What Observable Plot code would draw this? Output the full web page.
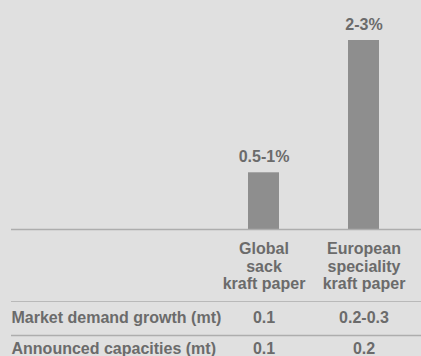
<!DOCTYPE html>
<html>
<head>
<meta charset="utf-8">
<script src="https://cdn.jsdelivr.net/npm/d3@7"></script>
<script src="https://cdn.jsdelivr.net/npm/@observablehq/plot@0.6"></script>
<style>
  html, body { margin: 0; padding: 0; background: #e0e0e0; overflow: hidden; }
  #chart svg { display: block; background: #e0e0e0; }
</style>
</head>
<body>
<div id="chart"></div>
<script>
const categories = ["Global\nsack\nkraft paper", "European\nspeciality\nkraft paper"];
const growth = [0.75, 2.5];
const growthLabels = ["0.5-1%", "2-3%"];
const rowLabels = ["Market demand growth (mt)", "Announced capacities (mt)"];
const demand = ["0.1", "0.2-0.3"];
const capacities = ["0.1", "0.2"];

const font = "'Liberation Sans', Arial, Helvetica, sans-serif";
const textColor = "#6b6b6b";
const barColor = "#8e8e8e";
const ruleColor = "#adadad";

const bars = categories.map((c, i) => ({cat: c, value: growth[i], label: growthLabels[i]}));
const xOpts = {type: "band", domain: categories, range: [213, 414], paddingInner: 0.693, paddingOuter: 0.342};

const chart = Plot.plot({
  width: 421,
  height: 302,
  marginTop: 40,
  marginBottom: 73,
  marginLeft: 11,
  marginRight: 0,
  style: {fontFamily: font, fontSize: "16px", fontWeight: "bold", color: textColor, background: "#e0e0e0"},
  x: {...xOpts, axis: null},
  y: {domain: [0, 2.5], axis: null},
  marks: [
    Plot.barY(bars, {x: "cat", y: "value", fill: barColor}),
    Plot.text(bars, {x: "cat", y: "value", text: "label", dy: -16, fill: textColor, fontSize: 16, fontWeight: "bold"}),
    Plot.ruleY([0], {stroke: ruleColor, strokeWidth: 1.5}),
    Plot.axisX({tickSize: 0, tickPadding: 12, fill: textColor, fontSize: 16, fontWeight: "bold", lineHeight: 1.1, label: null}),
    Plot.ruleY([0], {stroke: ruleColor, strokeWidth: 1.5, dy: 72.5, clip: false})
  ]
});

const rows = [];
rowLabels.forEach((r, j) => {
  const vals = j === 0 ? demand : capacities;
  categories.forEach((c, i) => rows.push({row: r, cat: c, text: vals[i]}));
});

const table = Plot.plot({
  width: 421,
  height: 54,
  marginTop: 0,
  marginBottom: 0,
  marginLeft: 11,
  marginRight: 0,
  style: {fontFamily: font, fontSize: "16px", fontWeight: "bold", color: textColor, background: "#e0e0e0", overflow: "visible"},
  x: {...xOpts, axis: null},
  y: {type: "band", domain: rowLabels, range: [0, 63], padding: 0, axis: null},
  marks: [
    Plot.text(rowLabels, {y: d => d, text: d => d, frameAnchor: "left", textAnchor: "start", fill: textColor, fontSize: 16, fontWeight: "bold", dy: -1}),
    Plot.text(rows, {x: "cat", y: "row", text: "text", fill: textColor, fontSize: 16, fontWeight: "bold", dy: -1}),
    Plot.ruleY(rowLabels.slice(1), {y: d => d, dy: -14.5, stroke: ruleColor, strokeWidth: 1.5})
  ]
});

document.getElementById("chart").append(chart, table);
</script>
</body>
</html>
